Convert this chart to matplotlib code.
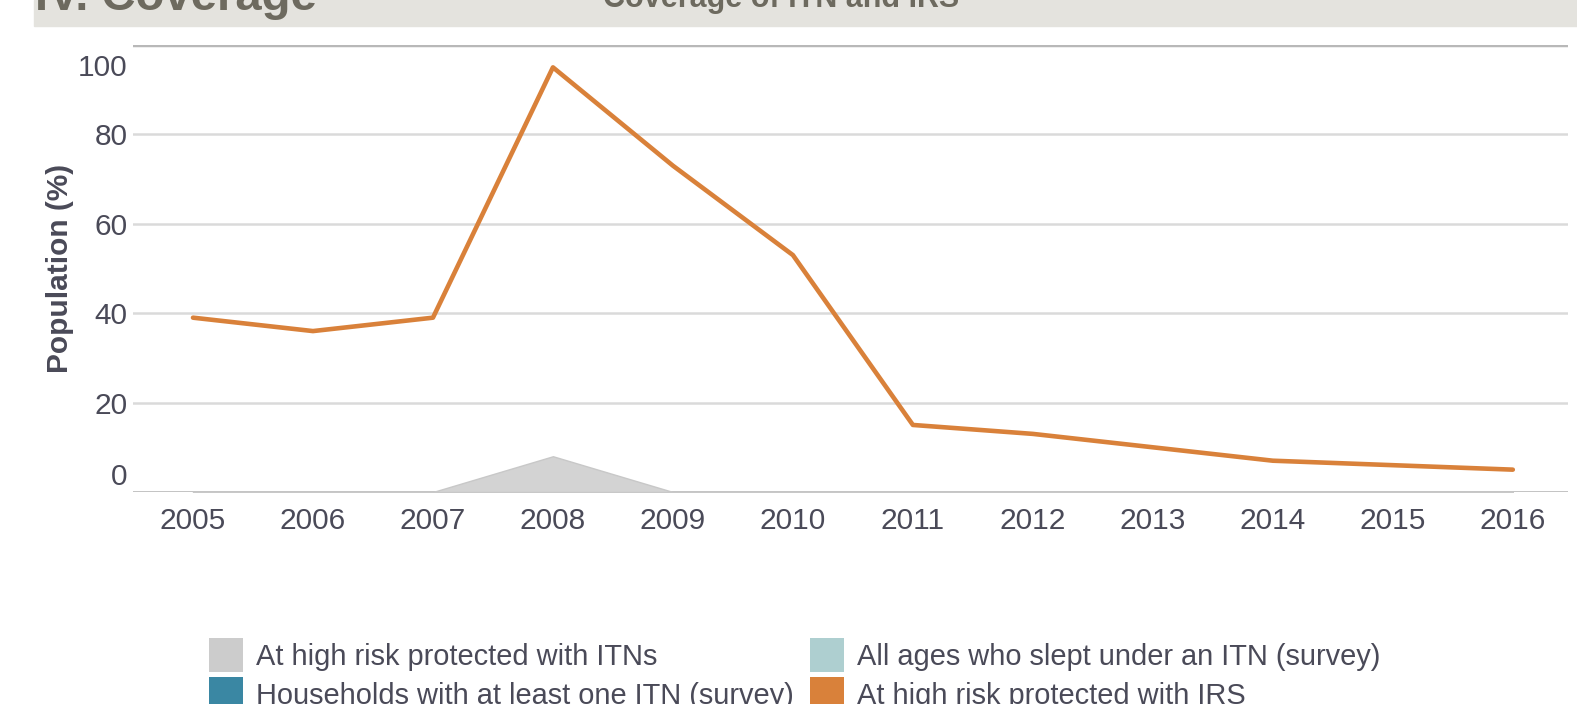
import numpy as np
import matplotlib.pyplot as plt
import matplotlib.transforms as mtransforms
from matplotlib.patches import Patch

plt.rcParams['font.family'] = ['Liberation Sans', 'DejaVu Sans']

years = [2005, 2006, 2007, 2008, 2009, 2010, 2011, 2012, 2013, 2014, 2015, 2016]
irs = [39, 36, 39, 95, 73, 53, 15, 13, 10, 7, 6, 5]
itn_high_risk = [0, 0, 0, 8, 0, 0, 0, 0, 0, 0, 0, 0]
yticks = [0, 20, 40, 60, 80, 100]

legend_labels = ['At high risk protected with ITNs',
                 'Households with at least one ITN (survey)',
                 'All ages who slept under an ITN (survey)',
                 'At high risk protected with IRS']
legend_colors = ['#cccccc', '#3a87a3', '#aecfd0', '#d9813a']

txt = '#4a4a58'
fs = 21.5

fig = plt.figure(figsize=(15.77, 7.04), dpi=100)
W, H = 1577, 704

# header band, cut off at the top
fig.patches.append(plt.Rectangle((34 / W, 1 - 26 / H), 1, 26 / H, transform=fig.transFigure,
                                 color='#e4e3de', zorder=0))
fig.text(35 / W, 1 - 10 / H, 'IV. Coverage', fontsize=34, fontweight='bold', color='#6d6a5f',
         va='baseline', ha='left')
fig.text(603 / W, 1 - 7 / H, 'Coverage of ITN and IRS', fontsize=22, fontweight='bold',
         color='#6d6a5f', va='baseline', ha='left')

ax = fig.add_axes([133 / W, 1 - 492 / H, (1568 - 133) / W, (492 - 45) / H])
ax.set_xlim(2004.5, 2016.46)
ax.set_ylim(0, 100)

ax.fill_between(years, itn_high_risk, 0, color='#d3d3d3', edgecolor='#c8c8c8', lw=1, zorder=2)
ax.plot(years, irs, color='#d9813a', lw=3.3, solid_capstyle='round', solid_joinstyle='round', zorder=3)

for s in ax.spines.values():
    s.set_visible(False)
for v in yticks[1:-1]:
    ax.axhline(v, color='#dadada', lw=1.8, zorder=1)
ax.axhline(100, color='#b8b8b8', lw=2.5, zorder=1)
ax.axhline(0, color='#bdbdbd', lw=2, zorder=1)

ax.set_xticks(years)
ax.set_xticklabels([str(y) for y in years])
ax.set_yticks(yticks)
ax.tick_params(length=0, labelsize=fs, labelcolor=txt)
ax.tick_params(axis='x', pad=10.5)
ax.tick_params(axis='y', pad=4)

labels = ax.get_yticklabels()
labels[0].set_transform(labels[0].get_transform() +
                        mtransforms.ScaledTranslation(0, 18 / 100, fig.dpi_scale_trans))
labels[-1].set_transform(labels[-1].get_transform() +
                         mtransforms.ScaledTranslation(0, -20 / 100, fig.dpi_scale_trans))

ax.set_ylabel('Population (%)', fontsize=fs, fontweight='bold', color=txt, labelpad=3)

lfs = 20.9
handles = [Patch(facecolor=c, edgecolor='none') for c in legend_colors]
fig.legend(handles, legend_labels, ncol=2, loc='upper left',
           bbox_to_anchor=(209 / W, 1 - 638 / H), frameon=False, fontsize=lfs,
           borderpad=0, borderaxespad=0,
           handlelength=1.17, handleheight=1.43, handletextpad=0.45,
           labelspacing=0.17, columnspacing=0.55, labelcolor=txt)

fig.savefig('out.png', dpi=100)
